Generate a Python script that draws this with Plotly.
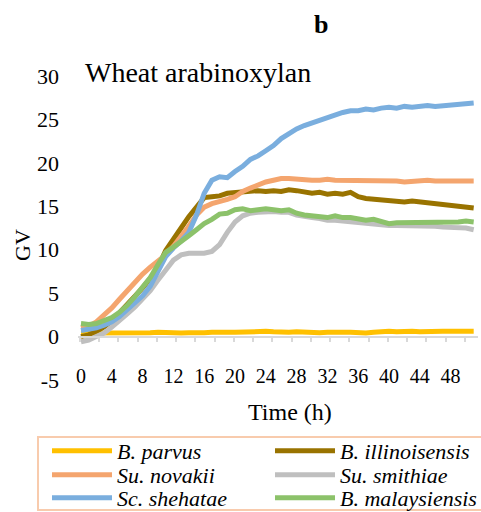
import plotly.graph_objects as go

hours = list(range(52))

b_parvus = [0.4, 0.4, 0.4, 0.4, 0.4, 0.35, 0.4, 0.35, 0.35, 0.45, 0.5, 0.45, 0.4, 0.4, 0.45, 0.4,
            0.45, 0.5, 0.45, 0.5, 0.5, 0.55, 0.5, 0.55, 0.6, 0.55, 0.5, 0.5, 0.55, 0.5, 0.5, 0.45,
            0.5, 0.55, 0.5, 0.5, 0.45, 0.4, 0.5, 0.6, 0.6, 0.55, 0.6, 0.6, 0.55, 0.6, 0.55, 0.6,
            0.6, 0.55, 0.6, 0.6]
b_illinoisensis = [0.0, 0.2, 0.6, 1.1, 1.8, 2.7, 3.6, 4.6, 5.6, 6.7, 8.0, 9.9, 11.1, 12.5, 13.8, 15.0,
                   16.0, 16.1, 16.2, 16.5, 16.6, 16.6, 16.7, 16.8, 16.7, 16.8, 16.7, 16.9, 16.8, 16.6,
                   16.5, 16.6, 16.4, 16.5, 16.4, 16.6, 16.1, 15.9, 15.8, 15.7, 15.6, 15.6, 15.5, 15.6,
                   15.5, 15.4, 15.4, 15.3, 15.2, 15.1, 15.0, 14.8]
su_novakii = [1.0, 1.2, 1.7, 2.5, 3.3, 4.3, 5.3, 6.3, 7.2, 8.0, 8.7, 9.4, 10.4, 11.5, 12.7, 14.0,
              14.9, 15.3, 15.5, 15.8, 16.1, 16.7, 17.1, 17.5, 17.8, 18.0, 18.2, 18.2, 18.1, 18.1,
              18.0, 18.0, 18.1, 18.0, 18.0, 17.9, 18.0, 17.9, 17.9, 18.0, 17.9, 17.9, 17.8, 17.9,
              17.9, 18.0, 17.9, 17.9, 17.8, 17.8, 17.8, 17.9]
su_smithiae = [-0.6, -0.4, 0.0, 0.4, 1.1, 1.8, 2.6, 3.4, 4.3, 5.3, 6.5, 7.6, 8.8, 9.4, 9.6, 9.6,
               9.6, 9.8, 10.6, 12.0, 13.2, 13.9, 14.2, 14.3, 14.4, 14.4, 14.3, 14.3, 14.0, 13.8,
               13.7, 13.6, 13.4, 13.4, 13.3, 13.2, 13.1, 13.1, 12.9, 12.9, 12.8, 12.8, 12.8, 12.8,
               12.7, 12.7, 12.7, 12.6, 12.6, 12.6, 12.5, 12.3]
sc_shehatae = [0.7, 0.8, 1.0, 1.3, 1.7, 2.3, 3.1, 3.9, 4.7, 5.8, 7.4, 9.2, 10.2, 11.0, 12.0, 14.0,
               16.5, 18.0, 18.4, 18.3, 19.0, 19.6, 20.4, 20.8, 21.4, 22.0, 22.8, 23.4, 23.9, 24.3,
               24.6, 25.0, 25.2, 25.6, 25.8, 26.0, 26.0, 26.2, 26.1, 26.3, 26.4, 26.3, 26.5, 26.4,
               26.5, 26.6, 26.5, 26.6, 26.6, 26.7, 26.8, 26.9]
b_malaysiensis = [1.5, 1.4, 1.5, 1.8, 2.2, 2.8, 3.6, 4.6, 5.6, 6.8, 8.3, 9.7, 10.3, 10.9, 11.6, 12.3,
                  13.0, 13.5, 14.1, 14.2, 14.6, 14.7, 14.5, 14.6, 14.7, 14.6, 14.5, 14.6, 14.2, 14.0,
                  13.9, 13.8, 13.7, 13.9, 13.7, 13.7, 13.6, 13.4, 13.5, 13.3, 13.0, 13.1, 13.1, 13.2,
                  13.1, 13.1, 13.1, 13.1, 13.2, 13.2, 13.3, 13.2]

series_names = ["B. parvus", "B. illinoisensis", "Su. novakii", "Su. smithiae", "Sc. shehatae", "B. malaysiensis"]
series_values = [b_parvus, b_illinoisensis, su_novakii, su_smithiae, sc_shehatae, b_malaysiensis]
series_colors = ["#FFC000", "#997300", "#F4A56E", "#BFBFBF", "#7AAEDE", "#8CC26A"]
series_legend = ["legend", "legend", "legend2", "legend2", "legend3", "legend3"]

x_tick_vals = list(range(0, 49, 4))
x_tick_text = [str(v) for v in x_tick_vals]
y_tick_vals = [-5, 0, 5, 10, 15, 20, 25, 30]
y_tick_text = ["-5", "0", "5", "10", "15", "20", "25", "30"]

FONT = "Times New Roman, Liberation Serif, serif"

# plot area in pixels
L, R, T, B, W, H = 78, 3, 76, 132, 481, 512
PW, PH = W - L - R, H - T - B


def px(xp):
    return (xp - L) / PW


def py(yp):
    return (H - B - yp) / PH


fig = go.Figure()
for name, vals, col, lg in zip(series_names, series_values, series_colors, series_legend):
    fig.add_trace(go.Scatter(x=hours, y=vals, mode="lines", name=name, legend=lg,
                             line=dict(color=col, width=5)))

legend_common = dict(
    orientation="h", xanchor="left", yanchor="middle",
    borderwidth=0, bgcolor="rgba(0,0,0,0)",
    font=dict(family=FONT, size=22, color="black", style="italic"),
    entrywidthmode="pixels", entrywidth=148, itemwidth=60,
)

fig.update_layout(
    width=W, height=H,
    margin=dict(l=L, r=R, t=T, b=B, autoexpand=False),
    paper_bgcolor="white", plot_bgcolor="white",
    font=dict(family=FONT, color="black"),
    showlegend=True,
    xaxis=dict(
        range=[-0.39, 51.56], anchor="free", position=5 / 35,
        showline=True, linecolor="#D9D9D9", linewidth=1.5,
        showgrid=False, zeroline=False,
        tickmode="array", tickvals=x_tick_vals, ticktext=x_tick_text,
        ticks="", tickfont=dict(family=FONT, size=20, color="black"),
        ticklabelstandoff=22,
        minor=dict(ticks="outside", ticklen=5, tickwidth=1.5, tickcolor="#D9D9D9",
                   tick0=2.34, dtick=2.5, showgrid=False),
    ),
    yaxis=dict(
        range=[-5, 30], tickmode="array", tickvals=y_tick_vals, ticktext=y_tick_text,
        showline=False, showgrid=False, zeroline=False,
        ticks="", tickfont=dict(family=FONT, size=22, color="black"),
        ticklabelstandoff=18,
    ),
    legend=dict(legend_common, x=px(47), y=py(451)),
    legend2=dict(legend_common, x=px(47), y=py(475)),
    legend3=dict(legend_common, x=px(47), y=py(498)),
    shapes=[
        dict(type="rect", xref="paper", yref="paper", x0=px(38), x1=px(490), y0=py(510), y1=py(437),
             line=dict(color="#F8CBAD", width=2), fillcolor="rgba(0,0,0,0)", layer="below"),
    ],
    annotations=[
        dict(text="<b>b</b>", xref="paper", yref="paper", x=px(321), y=py(24),
             showarrow=False, font=dict(family=FONT, size=26, color="black"),
             xanchor="center", yanchor="middle"),
        dict(text="Wheat arabinoxylan", xref="paper", yref="paper", x=px(83), y=py(72),
             showarrow=False, font=dict(family=FONT, size=28, color="black"),
             xanchor="left", yanchor="middle"),
        dict(text="GV", xref="paper", yref="paper", x=px(22), y=py(245),
             showarrow=False, textangle=-90, font=dict(family=FONT, size=22, color="black"),
             xanchor="center", yanchor="middle"),
        dict(text="Time (h)", xref="paper", yref="paper", x=px(290), y=py(412),
             showarrow=False, font=dict(family=FONT, size=24, color="black"),
             xanchor="center", yanchor="middle"),
    ],
)

fig.write_html("out.html", config={"displayModeBar": False},
               post_script="document.body.style.margin='0';")
